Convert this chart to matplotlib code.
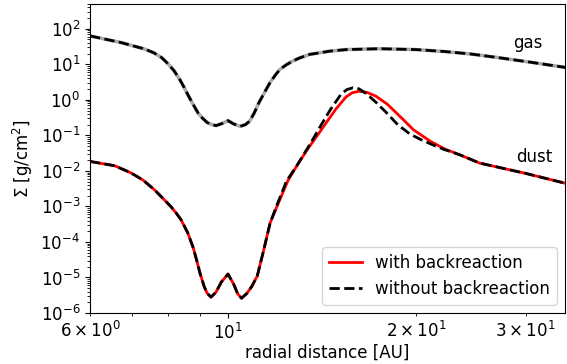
import numpy as np
from matplotlib import pyplot as plt

# gas surface density (both runs coincide)
r_gas = [6.0, 6.73, 7.34, 7.6, 7.82, 8.0, 8.19, 8.37, 8.5, 8.61, 8.78, 8.94, 9.1, 9.25, 9.42,
         9.56, 9.8, 9.99, 10.2, 10.45, 10.65, 10.82, 11.0, 11.2, 11.45, 11.67, 11.9, 12.1, 12.4,
         12.68, 13.0, 13.5, 14.58, 15.46, 17.47, 20.0, 22.2, 24.5, 27.0, 30.5, 34.7]
sig_gas = [63, 41, 27, 21, 15.4, 10.5, 6.5, 3.6, 2.2, 1.41, 0.75, 0.43, 0.3, 0.23, 0.2,
           0.188, 0.22, 0.26, 0.21, 0.18, 0.2, 0.25, 0.42, 0.84, 1.7, 3.1, 5.0, 7.2, 9.8,
           12.3, 15.0, 19.0, 23.6, 26, 27.5, 26, 23, 19.5, 15.6, 11.5, 8.2]

# dust, with backreaction
r_dust = [6.0, 6.58, 6.98, 7.3, 7.62, 7.85, 8.09, 8.25, 8.40, 8.61, 8.79, 8.9, 9.01, 9.15, 9.25,
          9.38, 9.55, 9.75, 9.99, 10.2, 10.35, 10.5, 10.7, 10.9, 11.13, 11.4, 11.67, 11.97,
          12.48, 13.0, 13.5, 14.0, 14.35, 14.88, 15.44, 15.8, 16.22, 16.7, 17.26, 18.0, 18.6,
          19.2, 19.8, 21.1, 22.2, 23.5, 25.3, 30.0, 34.7]
sig_dust_br = [0.0185, 0.0139, 0.0088, 0.0055, 0.0029, 0.0017, 9.9e-4, 6.5e-4, 4.2e-4, 1.8e-4,
               6.7e-5, 3.0e-5, 1.3e-5, 5.5e-6, 3.6e-6, 2.8e-6, 3.8e-6, 7.5e-6, 1.25e-5, 6.5e-6,
               3.5e-6, 2.6e-6, 3.5e-6, 5.5e-6, 1.1e-5, 6.0e-5, 3.4e-4, 1.0e-3, 0.0056, 0.018,
               0.049, 0.12, 0.224, 0.55, 1.2, 1.58, 1.75, 1.62, 1.26, 0.75, 0.43, 0.25, 0.145,
               0.068, 0.042, 0.0285, 0.0166, 0.0085, 0.0045]

# dust, without backreaction
r_dust_nobr = [6.0, 6.58, 6.98, 7.3, 7.62, 7.85, 8.09, 8.25, 8.40, 8.61, 8.79, 8.9, 9.01, 9.15,
               9.25, 9.38, 9.55, 9.75, 9.99, 10.2, 10.35, 10.5, 10.7, 10.9, 11.13, 11.4, 11.67,
               11.97, 12.4, 12.86, 13.66, 14.1, 14.58, 15.17, 15.5, 15.85, 16.2, 16.6, 17.2, 17.9,
               18.7, 19.55, 20.4, 21.4, 22.2, 23.5, 25.3, 30.0, 34.7]
sig_dust_nobr = [0.0185, 0.0139, 0.0088, 0.0055, 0.0029, 0.0017, 9.9e-4, 6.5e-4, 4.2e-4, 1.8e-4,
                 6.7e-5, 3.0e-5, 1.3e-5, 5.5e-6, 3.6e-6, 2.8e-6, 3.8e-6, 7.5e-6, 1.25e-5, 6.5e-6,
                 3.5e-6, 2.6e-6, 3.5e-6, 5.5e-6, 1.1e-5, 6.0e-5, 3.4e-4, 1.1e-3, 0.0052, 0.0133,
                 0.076, 0.2, 0.53, 1.45, 1.95, 2.19, 2.05, 1.55, 0.9, 0.45, 0.2, 0.11, 0.075,
                 0.052, 0.04, 0.0285, 0.0166, 0.0085, 0.0045]

fig = plt.figure(figsize=(5.67, 3.64), dpi=100)
ax = fig.add_axes([0.1587, 0.1401, 0.838, 0.849])

ax.plot(r_gas, sig_gas, color='darkgray', lw=2.5)
ax.plot(r_gas, sig_gas, color='black', ls='--', lw=2)
ax.plot(r_dust, sig_dust_br, color='red', lw=2, label='with backreaction')
ax.plot(r_dust_nobr, sig_dust_nobr, color='black', ls='--', lw=2, label='without backreaction')

ax.text(30.2, 41, 'gas', ha='center', va='center', fontsize=12)
ax.text(31.0, 0.025, 'dust', ha='center', va='center', fontsize=12)

ax.set_xscale('log')
ax.set_yscale('log')
ax.set_xlim(6, 34.7)
ax.set_ylim(1e-6, 5e2)
ax.set_xlabel('radial distance [AU]', fontsize=12, labelpad=1)
ax.set_ylabel(r'$\Sigma$ [g/cm$^2$]', fontsize=12)
ax.tick_params(labelsize=12)
ax.tick_params(axis='x', which='minor', labelsize=12)
ax.legend(loc='lower right', fontsize=12)

plt.savefig('out.png', dpi=100)
